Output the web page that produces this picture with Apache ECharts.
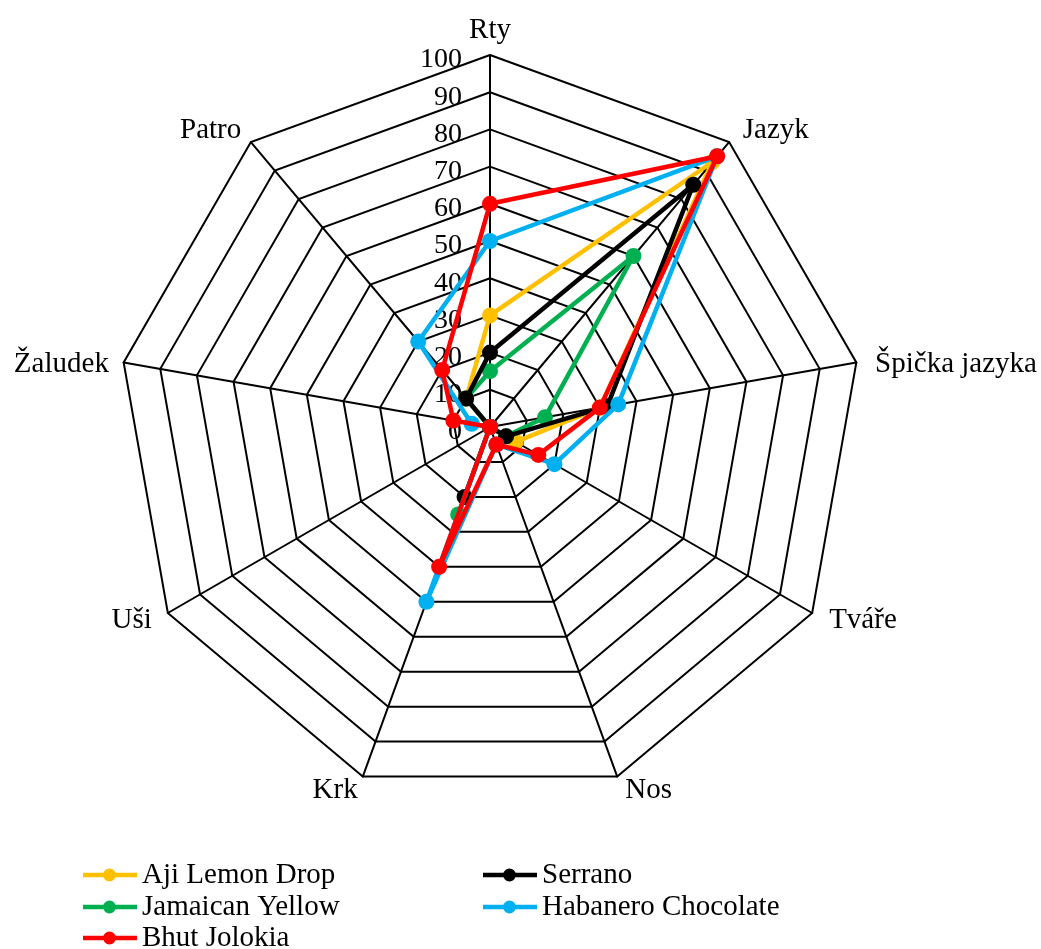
<!DOCTYPE html>
<html><head><meta charset="utf-8">
<script src="https://cdn.jsdelivr.net/npm/echarts@6/dist/echarts.min.js"></script>
<style>html,body{margin:0;padding:0;background:#fff}#c{width:1041px;height:949px}</style>
</head><body><div id="c"></div>
<script>
// Axes in clockwise order starting from the top
const categories = ['Rty', 'Jazyk', 'Špička jazyka', 'Tváře', 'Nos', 'Krk', 'Uši', 'Žaludek', 'Patro'];
const tickValues = [0, 10, 20, 30, 40, 50, 60, 70, 80, 90, 100];
const seriesNames = ['Aji Lemon Drop', 'Jamaican Yellow', 'Serrano', 'Habanero Chocolate', 'Bhut Jolokia'];
const ajiLemonDrop      = [30, 93, 30, 8, 0, 0, 0, 0, 10];
const jamaicanYellow    = [15, 60, 15, 5, 0, 25, 0, 0, 10];
const serrano           = [20, 85, 32, 5, 0, 20, 0, 0, 10];
const habaneroChocolate = [50, 95, 35, 20, 5, 50, 0, 5, 30];
const bhutJolokia       = [60, 95, 30, 15, 5, 40, 0, 10, 20];
const seriesColors = ['#FFC000', '#00B050', '#000000', '#00B0F0', '#FF0000'];

const FONT = 'Liberation Serif';
// ECharts radar runs counter-clockwise: reorder to keep the reference clockwise layout
const order = [0, 8, 7, 6, 5, 4, 3, 2, 1];
const reorder = arr => order.map(i => arr[i]);
const allValues = [ajiLemonDrop, jamaicanYellow, serrano, habaneroChocolate, bhutJolokia];

const CX = 490, CY = 427, R = 372;
const legendIcon = 'path://M0,4 L54,4 L54,8.5 L0,8.5 Z M33,6.25 A6.5,6.5 0 1,1 20,6.25 A6.5,6.5 0 1,1 33,6.25 Z';

// per-axis name text styles (placement tweaks only)
const nameRich = {
  n0: {fontSize: 29, fontFamily: FONT, color: '#000', lineHeight: 20},
  n1: {fontSize: 29, fontFamily: FONT, color: '#000', lineHeight: 20, padding: [0, 0, 0, 4]},
  n2: {fontSize: 29, fontFamily: FONT, color: '#000', padding: [10, 0, 0, 4]},
  n3: {fontSize: 29, fontFamily: FONT, color: '#000', lineHeight: 49, padding: [0, 0, 0, 4]},
  n4: {fontSize: 29, fontFamily: FONT, color: '#000', lineHeight: 49, padding: [0, 0, 0, 3]},
  n5: {fontSize: 29, fontFamily: FONT, color: '#000', lineHeight: 49},
  n6: {fontSize: 29, fontFamily: FONT, color: '#000', lineHeight: 49, padding: [0, 3, 0, 0]},
  n7: {fontSize: 29, fontFamily: FONT, color: '#000', padding: [10, 0, 0, 0]},
  n8: {fontSize: 29, fontFamily: FONT, color: '#000', lineHeight: 20}
};

const legendRows = [875, 907, 938];
// Aji row0 col1, Jamaican row1 col1, Serrano row0 col2, Habanero row1 col2, Bhut row2 col1
const legendSlots = [[83, 0], [83, 1], [483, 0], [483, 1], [83, 2]];

const chart = echarts.init(document.getElementById('c'), null, {renderer: 'canvas'});
chart.setOption({
  animation: false,
  backgroundColor: '#fff',
  textStyle: {fontFamily: FONT, color: '#000'},
  radar: {
    center: [CX, CY],
    radius: R,
    startAngle: 90,
    shape: 'polygon',
    splitNumber: 10,
    indicator: reorder(categories).map(n => ({name: n, min: 0, max: 100})),
    axisName: {
      color: '#000', fontFamily: FONT, fontSize: 29,
      formatter: name => '{n' + categories.indexOf(name) + '|' + name + '}',
      rich: nameRich
    },
    nameGap: 15,
    axisLine: {lineStyle: {color: '#000', width: 2}},
    splitLine: {lineStyle: {color: '#000', width: 2}},
    splitArea: {show: false},
    axisTick: {show: false},
    axisLabel: {show: false}
  },
  grid: {left: CX, top: CY - R, height: R, width: 1, containLabel: false},
  xAxis: {type: 'value', show: false},
  yAxis: {
    type: 'value', min: tickValues[0], max: tickValues[tickValues.length - 1], interval: 10,
    axisLine: {show: false}, axisTick: {show: false}, splitLine: {show: false},
    axisLabel: {margin: 28, fontSize: 28, fontFamily: FONT, color: '#000', verticalAlign: 'top', lineHeight: 10}
  },
  legend: seriesNames.map((name, k) => ({
    data: [name], orient: 'horizontal', padding: 0,
    left: legendSlots[k][0], top: legendRows[legendSlots[k][1]] - 15,
    itemWidth: 54, itemHeight: 13, icon: legendIcon, selectedMode: false,
    textStyle: {fontFamily: FONT, fontSize: 29, lineHeight: 30, color: '#000'}
  })),
  series: seriesNames.map((name, k) => ({
    type: 'radar',
    name: name,
    symbol: 'circle',
    symbolSize: 16,
    z: 2 + k,
    itemStyle: {color: seriesColors[k]},
    lineStyle: {color: seriesColors[k], width: 4.5},
    data: [{name: name, value: reorder(allValues[k])}]
  }))
});
</script></body></html>
